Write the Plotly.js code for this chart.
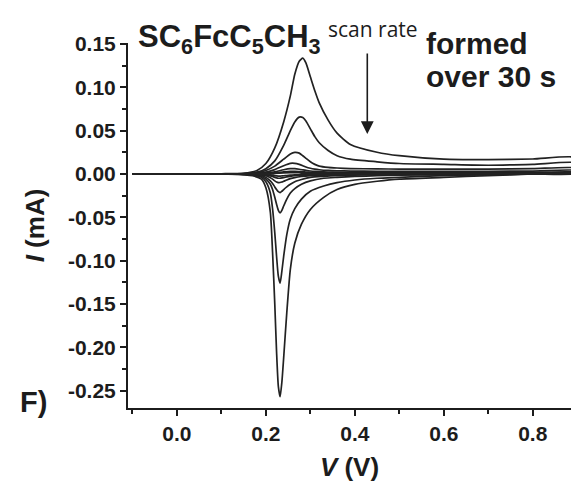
<!DOCTYPE html>
<html>
<head>
<meta charset="utf-8">
<script src="https://cdn.plot.ly/plotly-3.0.1.min.js"></script>
<style>html,body{margin:0;padding:0;background:#fff;}#chart{width:571px;height:482px;}</style>
</head>
<body>
<div id="chart"></div>
<script>
// Forward (anodic) sweep potentials, V
const fwdV = [-0.10, 0.00, 0.10, 0.15, 0.18, 0.20, 0.22, 0.24, 0.255, 0.265, 0.275, 0.283, 0.29, 0.30, 0.31, 0.32, 0.34, 0.36, 0.39, 0.45, 0.50, 0.60, 0.70, 0.80, 0.90];
// Reverse (cathodic) sweep potentials, V
const revV = [0.90, 0.80, 0.70, 0.60, 0.50, 0.45, 0.40, 0.36, 0.33, 0.30, 0.28, 0.265, 0.255, 0.247, 0.24, 0.236, 0.232, 0.228, 0.224, 0.22, 0.215, 0.21, 0.20, 0.19, 0.17, 0.15, 0.10, 0.00, -0.10];

// Currents (mA), one pair per scan rate, fastest first
const fwd1 = [0, 0, 0.0002, 0.0008, 0.004, 0.012, 0.030, 0.060, 0.090, 0.115, 0.130, 0.1335, 0.128, 0.112, 0.096, 0.082, 0.062, 0.047, 0.034, 0.025, 0.021, 0.017, 0.0165, 0.0172, 0.0185];
const rev1 = [0.002, 0.000, -0.002, -0.004, -0.006, -0.0085, -0.012, -0.018, -0.027, -0.041, -0.058, -0.080, -0.110, -0.160, -0.212, -0.240, -0.257, -0.245, -0.205, -0.150, -0.090, -0.044, -0.016, -0.006, -0.002, -0.001, 0, 0, 0];

const fwd2 = [0, 0, 0.0001, 0.0005, 0.002, 0.006, 0.015, 0.033, 0.050, 0.060, 0.0655, 0.065, 0.061, 0.052, 0.043, 0.036, 0.027, 0.021, 0.017, 0.014, 0.012, 0.011, 0.010, 0.011, 0.0125];
const rev2 = [0.0015, 0.0, -0.001, -0.002, -0.004, -0.005, -0.007, -0.010, -0.014, -0.020, -0.029, -0.040, -0.052, -0.070, -0.095, -0.112, -0.126, -0.118, -0.095, -0.068, -0.040, -0.022, -0.009, -0.004, -0.001, -0.0005, 0, 0, 0];

const fwd3 = [0, 0, 0.0001, 0.0004, 0.0015, 0.004, 0.009, 0.017, 0.023, 0.0248, 0.024, 0.021, 0.018, 0.014, 0.011, 0.009, 0.0075, 0.0068, 0.0062, 0.0058, 0.0056, 0.0055, 0.0055, 0.006, 0.0065];
const rev3 = [0.001, 0, -0.0005, -0.001, -0.0015, -0.002, -0.003, -0.004, -0.005, -0.008, -0.012, -0.017, -0.022, -0.029, -0.037, -0.042, -0.045, -0.042, -0.035, -0.027, -0.018, -0.012, -0.006, -0.003, -0.001, -0.0003, 0, 0, 0];

const fwd4 = [0, 0, 0, 0.0002, 0.0008, 0.002, 0.005, 0.0095, 0.0122, 0.0122, 0.011, 0.0095, 0.008, 0.0065, 0.0055, 0.0048, 0.0040, 0.0036, 0.0033, 0.003, 0.003, 0.003, 0.003, 0.0033, 0.0037];
const rev4 = [0.0005, 0, -0.0003, -0.0005, -0.0008, -0.001, -0.0015, -0.002, -0.0028, -0.004, -0.0065, -0.009, -0.012, -0.015, -0.018, -0.020, -0.0215, -0.0205, -0.018, -0.015, -0.011, -0.008, -0.004, -0.002, -0.0007, -0.0002, 0, 0, 0];

const fwd5 = [0, 0, 0, 0.0001, 0.0004, 0.001, 0.0025, 0.0048, 0.006, 0.006, 0.0054, 0.0047, 0.0041, 0.0034, 0.0029, 0.0026, 0.0022, 0.0019, 0.0017, 0.0015, 0.0015, 0.0015, 0.0015, 0.0017, 0.0019];
const rev5 = [0.0003, 0, -0.0002, -0.0003, -0.0004, -0.0005, -0.0007, -0.001, -0.0013, -0.002, -0.003, -0.0042, -0.0055, -0.007, -0.0085, -0.0093, -0.0099, -0.010, -0.0093, -0.008, -0.006, -0.0045, -0.0022, -0.001, -0.0003, -0.0001, 0, 0, 0];

const fwd6 = [0, 0, 0, 0, 0.0002, 0.0005, 0.0012, 0.0024, 0.003, 0.003, 0.0027, 0.0024, 0.0021, 0.0017, 0.0015, 0.0013, 0.0011, 0.001, 0.0009, 0.0008, 0.0008, 0.0008, 0.0008, 0.0009, 0.001];
const rev6 = [0.0002, 0, -0.0001, -0.0002, -0.0002, -0.0003, -0.0004, -0.0005, -0.0007, -0.001, -0.0015, -0.0021, -0.0028, -0.0035, -0.0042, -0.0046, -0.0049, -0.005, -0.0046, -0.004, -0.003, -0.0022, -0.0011, -0.0005, -0.0002, 0, 0, 0, 0];

const fwd7 = [0, 0, 0, 0, 0.0001, 0.0003, 0.0006, 0.0012, 0.0015, 0.0015, 0.0014, 0.0012, 0.0011, 0.0009, 0.0008, 0.0007, 0.0006, 0.0005, 0.0005, 0.0004, 0.0004, 0.0004, 0.0004, 0.0005, 0.0005];
const rev7 = [0.0001, 0, 0, -0.0001, -0.0001, -0.0002, -0.0002, -0.0003, -0.0004, -0.0005, -0.0008, -0.0011, -0.0014, -0.0018, -0.0021, -0.0023, -0.0025, -0.0025, -0.0023, -0.002, -0.0015, -0.0011, -0.0006, -0.0003, -0.0001, 0, 0, 0, 0];

const curves = [[fwd1, rev1], [fwd2, rev2], [fwd3, rev3], [fwd4, rev4], [fwd5, rev5], [fwd6, rev6], [fwd7, rev7]];

// Tick labels
const yTickVals = [-0.25, -0.20, -0.15, -0.10, -0.05, 0.00, 0.05, 0.10, 0.15];
const yTickText = ['-0.25', '-0.20', '-0.15', '-0.10', '-0.05', '0.00', '0.05', '0.10', '0.15'];
const xTickVals = [0.0, 0.2, 0.4, 0.6, 0.8];
const xTickText = ['0.0', '0.2', '0.4', '0.6', '0.8'];

const FONT = 'Arial, "Liberation Sans", Helvetica, sans-serif';
const INK = '#1c1c1c';

const traces = curves.map(function (c) {
  return {
    type: 'scatter', mode: 'lines',
    x: fwdV.concat(revV), y: c[0].concat(c[1]),
    line: {color: '#222', width: 1.7, shape: 'spline', smoothing: 0.6},
    hoverinfo: 'skip', showlegend: false
  };
});

const layout = {
  width: 571, height: 482,
  margin: {l: 128, r: 0, t: 43, b: 74, pad: 0},
  paper_bgcolor: '#fff', plot_bgcolor: '#fff',
  font: {family: FONT, color: INK},
  showlegend: false,
  xaxis: {
    range: [-0.11, 0.886], showgrid: false, zeroline: false,
    showline: true, linecolor: INK, linewidth: 2, mirror: false,
    ticks: 'outside', ticklen: 6, tickwidth: 2, tickcolor: INK,
    tickmode: 'array', tickvals: xTickVals, ticktext: xTickText,
    tickfont: {family: FONT, size: 21, weight: 'bold', color: INK},
    minor: {tickmode: 'linear', tick0: 0, dtick: 0.1, ticks: 'outside', ticklen: 4, tickwidth: 2, tickcolor: INK, showgrid: false},
    title: {text: '<i>V</i> (V)', font: {family: FONT, size: 26, weight: 'bold', color: INK}, standoff: 18},
    automargin: false, fixedrange: true
  },
  yaxis: {
    range: [-0.27, 0.151], showgrid: false, zeroline: false,
    showline: true, linecolor: INK, linewidth: 2,
    ticks: 'outside', ticklen: 6, tickwidth: 2, tickcolor: INK,
    tickmode: 'array', tickvals: yTickVals, ticktext: yTickText,
    tickfont: {family: FONT, size: 21, weight: 'bold', color: INK},
    minor: {tickmode: 'linear', tick0: 0, dtick: 0.025, ticks: 'outside', ticklen: 4, tickwidth: 2, tickcolor: INK, showgrid: false},
    title: {text: '<i>I</i> (mA)', font: {family: FONT, size: 26, weight: 'bold', color: INK}, standoff: 16},
    automargin: false, fixedrange: true
  },
  annotations: [
    {xref: 'paper', yref: 'paper', x: 0.018, y: 1.011, xanchor: 'left', yanchor: 'middle', showarrow: false,
     text: 'SC<sub>6</sub>FcC<sub>5</sub>CH<sub>3</sub>', font: {family: FONT, size: 31, weight: 'bold', color: INK}},
    {xref: 'paper', yref: 'paper', x: 0.446, y: 1.037, xanchor: 'left', yanchor: 'middle', showarrow: false,
     text: 'scan rate', font: {family: '"Open Sans", "Noto Sans", sans-serif', size: 21, color: INK}},
    {xref: 'paper', yref: 'paper', x: 0.668, y: 0.999, xanchor: 'left', yanchor: 'middle', showarrow: false,
     text: 'formed', font: {family: FONT, size: 30, weight: 'bold', color: INK}},
    {xref: 'paper', yref: 'paper', x: 0.668, y: 0.909, xanchor: 'left', yanchor: 'middle', showarrow: false,
     text: 'over 30 s', font: {family: FONT, size: 30, weight: 'bold', color: INK}},
    {xref: 'paper', yref: 'paper', x: -0.248, y: 0.016, xanchor: 'left', yanchor: 'middle', showarrow: false,
     text: 'F)', font: {family: FONT, size: 29, weight: 'bold', color: INK}},
    {xref: 'x', yref: 'y', x: 0.428, y: 0.046, ax: 0, ay: -82, axref: 'pixel', ayref: 'pixel', text: '',
     showarrow: true, arrowhead: 2, arrowsize: 1.6, arrowwidth: 1.6, arrowcolor: INK}
  ]
};

Plotly.newPlot('chart', traces, layout, {displayModeBar: false, staticPlot: true});
</script>
</body>
</html>
